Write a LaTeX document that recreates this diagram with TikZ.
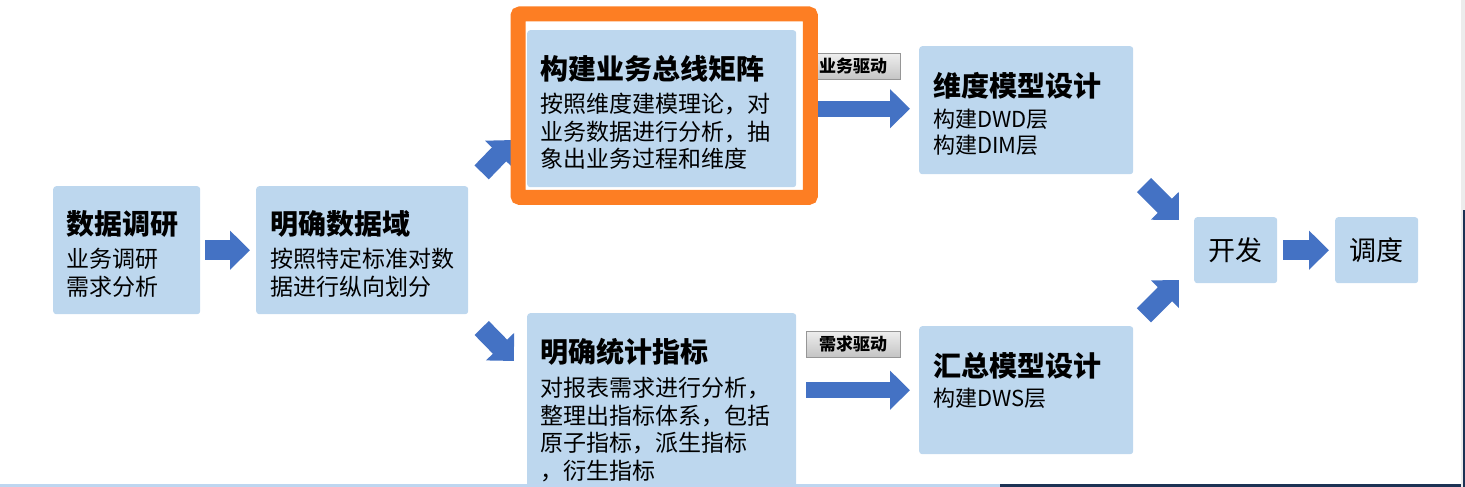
\documentclass[tikz,border=0pt]{standalone}
\usepackage{fontspec}
\setmainfont{Noto Sans CJK SC}
\usepackage{tikz}
\usetikzlibrary{calc, positioning}
\usetikzlibrary{arrows.meta}

\definecolor{StageBlue}{RGB}{189,215,238}
\definecolor{FlowBlue}{RGB}{68,114,196}
\definecolor{HiliteOrange}{RGB}{253,126,35}
\definecolor{TagTop}{RGB}{238,238,238}
\definecolor{TagBottom}{RGB}{196,196,196}
\definecolor{TagEdge}{RGB}{150,150,150}
\definecolor{ScreenBlue}{RGB}{190,214,240}
\definecolor{ScreenNavy}{RGB}{28,50,84}

\begin{document}
\begin{tikzpicture}[x=1pt, y=-1pt,
    stage/.style={fill=StageBlue, rounded corners=3pt, anchor=north west, inner sep=0pt},
    head/.style={anchor=north west, inner sep=0pt, font=\fontsize{28}{32}\selectfont\bfseries},
    body/.style={anchor=north west, inner sep=0pt, align=left, font=\fontsize{23}{27.5}\selectfont},
    flow/.style={draw=FlowBlue, line width=20pt, -{Triangle[length=20pt, width=38pt]}},
    tag/.style={draw=TagEdge, line width=0.8pt, top color=TagTop, bottom color=TagBottom,
      minimum width=94pt, minimum height=26pt, inner sep=0pt,
      font=\fontsize{17}{20}\selectfont\bfseries},
    hilite/.style={draw=HiliteOrange, line width=15pt, rounded corners=2pt}
  ]
    \clip (0,0) rectangle (1465,487);

    % stages
    \node[stage, minimum width=147pt, minimum height=128pt] (yanjiu) at (53,186) {};
    \node[head] (yanjiu-t) at ([shift={(13,24)}]yanjiu.north west) {数据调研};
    \node[body] (yanjiu-b) at ([shift={(13,62)}]yanjiu.north west) {业务调研\\需求分析};

    \node[stage, minimum width=212pt, minimum height=128pt] (shujuyu) at (256,186) {};
    \node[head] (shujuyu-t) at ([shift={(14,24)}]shujuyu.north west) {明确数据域};
    \node[body] (shujuyu-b) at ([shift={(14,62)}]shujuyu.north west) {按照特定标准对数\\据进行纵向划分};

    \node[stage, minimum width=269pt, minimum height=157pt] (bus) at (527,30) {};
    \node[head] (bus-t) at ([shift={(13,25)}]bus.north west) {构建业务总线矩阵};
    \node[body] (bus-b) at ([shift={(13,63)}]bus.north west) {按照维度建模理论，对\\业务数据进行分析，抽\\象出业务过程和维度};

    \node[stage, minimum width=269pt, minimum height=200pt] (zhibiao) at (527,313) {};
    \node[head] (zhibiao-t) at ([shift={(13,25)}]zhibiao.north west) {明确统计指标};
    \node[body] (zhibiao-b) at ([shift={(13,64)}]zhibiao.north west) {对报表需求进行分析，\\整理出指标体系，包括\\原子指标，派生指标\\，衍生指标};

    \node[stage, minimum width=214pt, minimum height=128pt] (weidu) at (919,46) {};
    \node[head] (weidu-t) at ([shift={(14,26)}]weidu.north west) {维度模型设计};
    \node[body, font=\fontsize{22}{26}\selectfont] (weidu-b) at ([shift={(14,63)}]weidu.north west) {构建DWD层\\构建DIM层};

    \node[stage, minimum width=214pt, minimum height=128pt] (huizong) at (919,326) {};
    \node[head] (huizong-t) at ([shift={(14,26)}]huizong.north west) {汇总模型设计};
    \node[body, font=\fontsize{22}{26}\selectfont] (huizong-b) at ([shift={(14,62)}]huizong.north west) {构建DWS层};

    \node[stage, minimum width=83pt, minimum height=66pt, font=\fontsize{27}{30}\selectfont] (kaifa) at (1194,217) {开发};
    \node[stage, minimum width=83pt, minimum height=66pt, font=\fontsize{27}{30}\selectfont] (diaodu) at (1335,217) {调度};

    % flows
    \coordinate (up) at (513,140);
    \coordinate (down) at (514,361);
    \coordinate (in-up) at (1179,220);
    \coordinate (in-down) at (1179,280);
    \draw[flow, shorten <=5pt, shorten >=6pt] (yanjiu) -- (shujuyu);
    \draw[flow, shorten <=19pt] (shujuyu.north east) -- (up);
    \draw[flow, shorten <=19pt] (shujuyu.south east) -- (down);
    \draw[flow, line width=16pt, shorten <=16pt, shorten >=9pt] (bus.east) -- (bus.east -| weidu.west);
    \draw[flow, line width=16pt, shorten <=10pt, shorten >=9pt] (huizong.west -| zhibiao.east) -- (huizong.west);
    \draw[flow, shorten <=15pt] (weidu.south east) -- (in-up);
    \draw[flow, shorten <=15pt] (huizong.north east) -- (in-down);
    \draw[flow, shorten <=6pt, shorten >=6pt] (kaifa) -- (diaodu);

    \node[tag] (yewu) at (853,66.5) {业务驱动};
    \node[tag] (xuqiu) at (853,344) {需求驱动};

    % highlight round the bus matrix
    \draw[hilite] ([shift={(-9,-16)}]bus.north west) rectangle ([shift={(14,10)}]bus.south east);

    % window edges
    \fill[ScreenBlue] (0,484) rectangle (1000,487);
    \fill[ScreenNavy] (1000,483.5) rectangle (1465,487);
    \fill[gray!15] (1461,0) rectangle (1465,487);
    \fill[ScreenNavy] (1463,210) rectangle (1465,487);
\end{tikzpicture}
\end{document}
